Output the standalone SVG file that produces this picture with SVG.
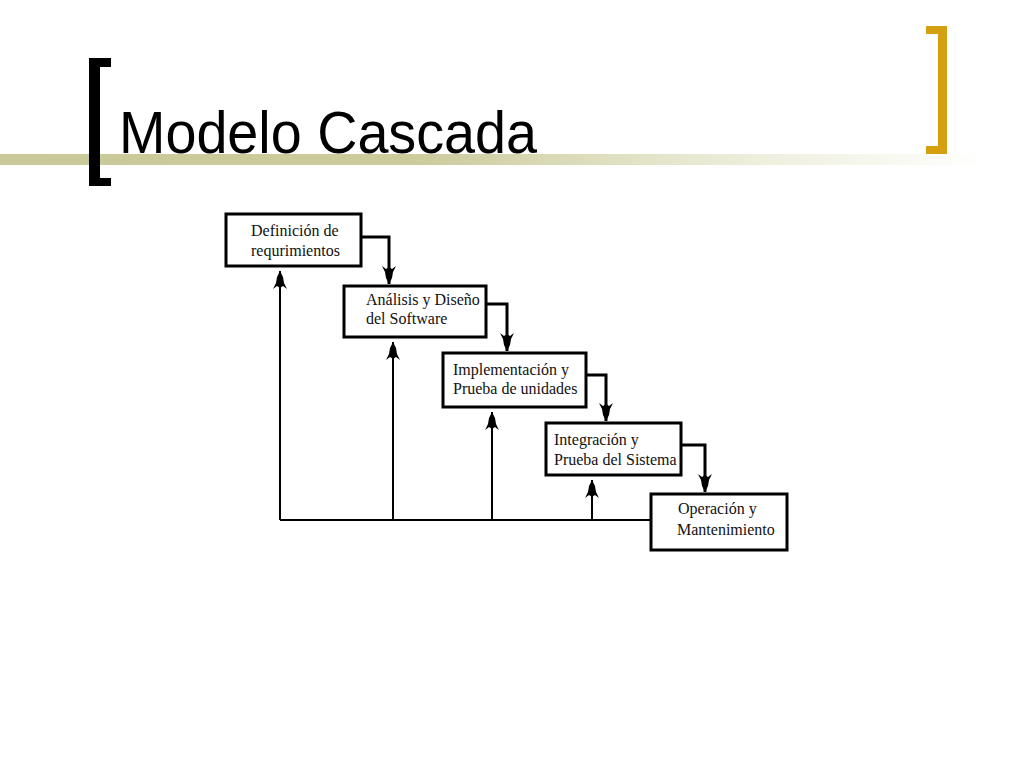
<svg xmlns="http://www.w3.org/2000/svg" width="1024" height="768" viewBox="0 0 1024 768">
<defs>
<linearGradient id="bar" x1="0" y1="0" x2="1" y2="0">
<stop offset="0" stop-color="#c9c99a"/>
<stop offset="0.42" stop-color="#cbcb9c"/>
<stop offset="0.75" stop-color="#ecedd9"/>
<stop offset="1" stop-color="#ffffff"/>
</linearGradient>
<marker id="down" viewBox="-19 -8 20 16" markerWidth="20" markerHeight="16" refX="0" refY="0" orient="auto" markerUnits="userSpaceOnUse">
<path d="M0,0 L-6,-3 L-12,-4 L-18,-7 L-15,-3 L-17,0 L-15,3 L-18,7 L-12,4 L-6,3 Z" fill="#000"/>
</marker>
<marker id="up" viewBox="-19 -8 20 16" markerWidth="20" markerHeight="16" refX="0" refY="0" orient="auto" markerUnits="userSpaceOnUse">
<path d="M0,0 L-6,-3 L-12,-4 L-18,-7 L-15,-3 L-17,0 L-15,3 L-18,7 L-12,4 L-6,3 Z" fill="#000"/>
</marker>
</defs>
<style>
.box{fill:#fff;stroke:#000;stroke-width:3}
.lbl{font-family:"Liberation Serif","Times New Roman",serif;font-size:16px;fill:#111}
.flow{fill:none;stroke:#000;stroke-width:3;marker-end:url(#down)}
.back{fill:none;stroke:#000;stroke-width:2;marker-end:url(#up)}
.base{fill:none;stroke:#000;stroke-width:2}
</style>
<rect width="1024" height="768" fill="#fff"/>
<g id="title">
<rect x="0" y="154" width="985" height="11" fill="url(#bar)"/>
<path d="M89,58 H111 V67 H100 V178 H111 V186 H89 Z" fill="#000"/>
<path d="M926,26 H947 V154 H926 V146 H938 V34 H926 Z" fill="#d4a010"/>
<text x="119" y="153" font-family="'Liberation Sans',Arial,sans-serif" font-size="60" textLength="418" lengthAdjust="spacingAndGlyphs" fill="#000">Modelo Cascada</text>
</g>
<g id="connectors">
<path class="flow" d="M361,237 H389 V284"/>
<path class="flow" d="M486,304 H507 V351"/>
<path class="flow" d="M586,375 H606 V421"/>
<path class="flow" d="M681,445 H705 V492"/>
<path class="base" d="M280,520 H650"/>
<path class="back" d="M280,520 V271"/>
<path class="back" d="M393,520 V342"/>
<path class="back" d="M492,520 V412"/>
<path class="back" d="M592,520 V480"/>
</g>
<g id="n1">
<rect class="box" x="226" y="214" width="135" height="52"/>
<text class="lbl" x="251" y="236">Definición de</text>
<text class="lbl" x="251" y="256">requrimientos</text>
</g>
<g id="n2">
<rect class="box" x="344" y="286" width="142" height="51"/>
<text class="lbl" x="366" y="305">Análisis y Diseño</text>
<text class="lbl" x="366" y="324">del Software</text>
</g>
<g id="n3">
<rect class="box" x="443" y="353" width="143" height="54"/>
<text class="lbl" x="453" y="375">Implementación y</text>
<text class="lbl" x="453" y="394">Prueba de unidades</text>
</g>
<g id="n4">
<rect class="box" x="546" y="423" width="135" height="52"/>
<text class="lbl" x="554" y="445">Integración y</text>
<text class="lbl" x="554" y="465">Prueba del Sistema</text>
</g>
<g id="n5">
<rect class="box" x="651" y="494" width="136" height="56"/>
<text class="lbl" x="678" y="514">Operación y</text>
<text class="lbl" x="677" y="535">Mantenimiento</text>
</g>
</svg>
